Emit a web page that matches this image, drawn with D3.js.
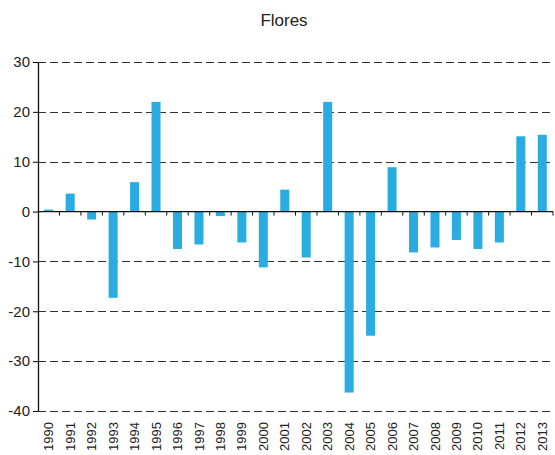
<!DOCTYPE html>
<html>
<head>
<meta charset="utf-8">
<script src="https://cdn.jsdelivr.net/npm/d3@7"></script>
<style>
  body { margin: 0; background: #fff; }
  text { font-family: "Liberation Sans", Arial, sans-serif; fill: #222; }
</style>
</head>
<body>
<svg width="555" height="455"></svg>
<script>
var years = ["1990","1991","1992","1993","1994","1995","1996","1997","1998","1999","2000","2001",
             "2002","2003","2004","2005","2006","2007","2008","2009","2010","2011","2012","2013"];
var values = [0.4, 3.6, -1.6, -17.3, 5.9, 22.0, -7.5, -6.6, -0.9, -6.2, -11.2, 4.4,
              -9.2, 22.0, -36.3, -24.9, 8.9, -8.2, -7.2, -5.7, -7.5, -6.2, 15.1, 15.4];
var yTicks = [30, 20, 10, 0, -10, -20, -30, -40];

var margin = {top: 62, right: 2, bottom: 44, left: 38};
var width = 555 - margin.left - margin.right;
var height = 455 - margin.top - margin.bottom;

var svg = d3.select("svg");

svg.append("text")
    .attr("x", 284)
    .attr("y", 26)
    .attr("text-anchor", "middle")
    .style("font-size", "17px")
    .text("Flores");

var g = svg.append("g")
    .attr("transform", "translate(" + margin.left + "," + margin.top + ")");

var x = d3.scaleBand()
    .domain(years)
    .range([0, width])
    .paddingInner(0.58)
    .paddingOuter(0.29);

var y = d3.scaleLinear()
    .domain([-40, 30])
    .range([height, 0]);

// dashed gridlines (not at zero)
g.selectAll(".grid")
    .data(yTicks.filter(function(d) { return d != 0; }))
    .enter().append("line")
    .attr("class", "grid")
    .attr("x1", 0)
    .attr("x2", width)
    .attr("y1", function(d) { return Math.round(y(d)) + 0.5; })
    .attr("y2", function(d) { return Math.round(y(d)) + 0.5; })
    .attr("stroke", "#333")
    .attr("stroke-width", 1.2)
    .attr("stroke-dasharray", "8,4");

g.selectAll(".bar")
    .data(values)
    .enter().append("rect")
    .attr("class", "bar")
    .attr("x", function(d, i) { return x(years[i]); })
    .attr("width", x.bandwidth())
    .attr("y", function(d) { return y(Math.max(0, d)); })
    .attr("height", function(d) { return Math.abs(y(d) - y(0)); })
    .attr("fill", "#2aace2");

// zero line with category boundary ticks
var x0 = y(0);
g.append("line")
    .attr("x1", 0).attr("x2", width)
    .attr("y1", x0).attr("y2", x0)
    .attr("stroke", "#111").attr("stroke-width", 1.3);
g.selectAll(".ztick")
    .data(years.slice(1))
    .enter().append("line")
    .attr("class", "ztick")
    .attr("x1", function(d) { return x(d) - x.step() * 0.29; })
    .attr("x2", function(d) { return x(d) - x.step() * 0.29; })
    .attr("y1", x0)
    .attr("y2", x0 + 4)
    .attr("stroke", "#111");
g.append("line")
    .attr("x1", width).attr("x2", width)
    .attr("y1", x0).attr("y2", x0 + 4)
    .attr("stroke", "#111");

// y axis
var yAxis = g.append("g")
    .call(d3.axisLeft(y).tickValues(yTicks)
        .tickFormat(function(d) { return String(d); })
        .tickSize(5).tickPadding(3).tickSizeOuter(0));
yAxis.select(".domain").attr("stroke", "#111").attr("stroke-width", 1.3);
yAxis.selectAll("text").style("font-size", "15px").attr("fill", "#222");

// year labels at the bottom
var xAxis = g.append("g")
    .attr("transform", "translate(0," + height + ")")
    .call(d3.axisBottom(x).tickSize(0).tickPadding(0));
xAxis.select(".domain").remove();
xAxis.selectAll("text")
    .style("font-size", "13px")
    .attr("fill", "#222")
    .attr("text-anchor", "end")
    .attr("dy", "0.35em")
    .attr("transform", "translate(0,11) rotate(-90)")
    .attr("y", 0)
    .attr("x", 0);
</script>
</body>
</html>
